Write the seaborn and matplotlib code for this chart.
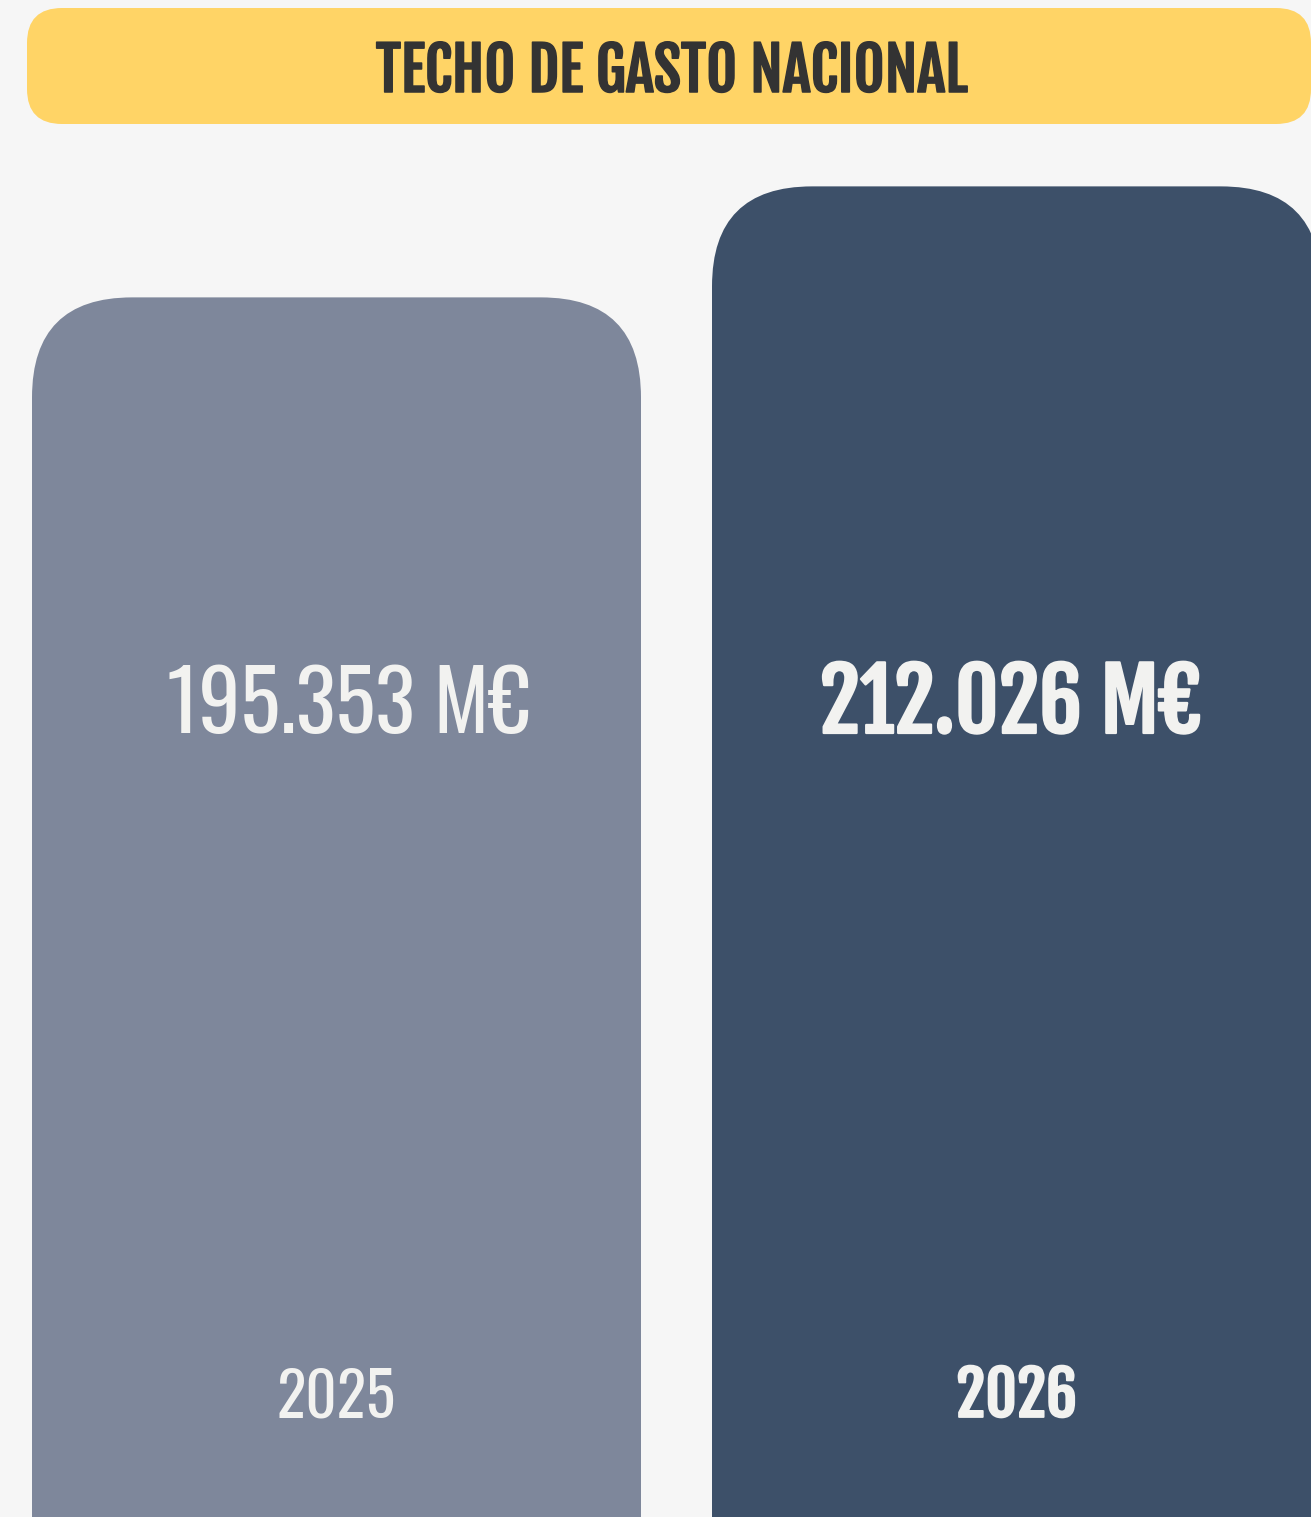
import matplotlib
matplotlib.use("Agg")
import matplotlib.pyplot as plt
import matplotlib.patheffects as pe
from matplotlib.patches import FancyBboxPatch
from matplotlib.transforms import IdentityTransform
import seaborn as sns
import pandas as pd

years = ["2025", "2026"]
values = [195353, 212026]
value_labels = ["195.353 M€", "212.026 M€"]
bar_colors = ["#7E879B", "#3D5069"]
title = "TECHO DE GASTO NACIONAL"

W, H, DPI = 1311, 1517, 100
sns.set_theme(style="white")
LIGHT = ["Oswald", "DejaVu Sans"]
BOLD = ["Fjalla One", "Oswald", "DejaVu Sans"]
plt.rcParams["font.family"] = LIGHT
label_fams = [LIGHT, BOLD]
TXT = "#F2F2F0"
value_fx = [[], [pe.withStroke(linewidth=1.6, foreground=TXT)]]
year_fx = [[], [pe.withStroke(linewidth=1.3, foreground=TXT)]]

fig = plt.figure(figsize=(W / DPI, H / DPI), dpi=DPI, facecolor="#F6F6F6")
ax = fig.add_axes([0, 0, 1, 1])
ax.set_facecolor("#F6F6F6")

df = pd.DataFrame({"year": years, "value": values})
sns.barplot(data=df, x="year", y="value", hue="year", palette=bar_colors,
            legend=False, width=609 / 680, ax=ax, saturation=1)
ax.set_xlim(-336.5 / 680, (W - 336.5) / 680)
ax.set_ylim(12167, 240020)
ax.axis("off")

fig.canvas.draw()
value_sizes = [60, 61]
year_sizes = [44, 44]
value_dx = [12, -6]
for i, p in enumerate(list(ax.patches)):
    x0, y0 = p.get_x(), p.get_y()
    x1, y1 = x0 + p.get_width(), y0 + p.get_height()
    (px0, py0), (px1, py1) = ax.transData.transform([(x0, y0), (x1, y1)])
    r = FancyBboxPatch((px0, py0 - 300), px1 - px0, py1 - py0 + 300,
                       boxstyle="round,pad=0,rounding_size=100",
                       transform=IdentityTransform(), facecolor=p.get_facecolor(),
                       edgecolor="none", zorder=2)
    p.set_visible(False)
    r.set_figure(fig)
    fig.patches.append(r)
    cx = (px0 + px1) / 2
    fig.text((cx + value_dx[i]) / W, 1 - 733 / H, value_labels[i], ha="center",
             va="baseline", fontsize=value_sizes[i], color=TXT,
             family=label_fams[i], path_effects=value_fx[i], zorder=3)
    fig.text(cx / W, 1 - 1417 / H, years[i], ha="center", va="baseline",
             fontsize=year_sizes[i], color=TXT, family=label_fams[i],
             path_effects=year_fx[i], zorder=3)

banner = FancyBboxPatch((27, H - 124), W - 27, 116,
                        boxstyle="round,pad=0,rounding_size=35",
                        transform=IdentityTransform(), facecolor="#FFD466",
                        edgecolor="none", zorder=2)
banner.set_figure(fig)
fig.patches.append(banner)
fig.text(672 / W, 1 - 92 / H, title, ha="center", va="baseline", fontsize=43,
         color="#333333", family=BOLD,
         path_effects=[pe.withStroke(linewidth=1.1, foreground="#333333")], zorder=3)

fig.savefig("out.png", dpi=DPI, facecolor=fig.get_facecolor())
